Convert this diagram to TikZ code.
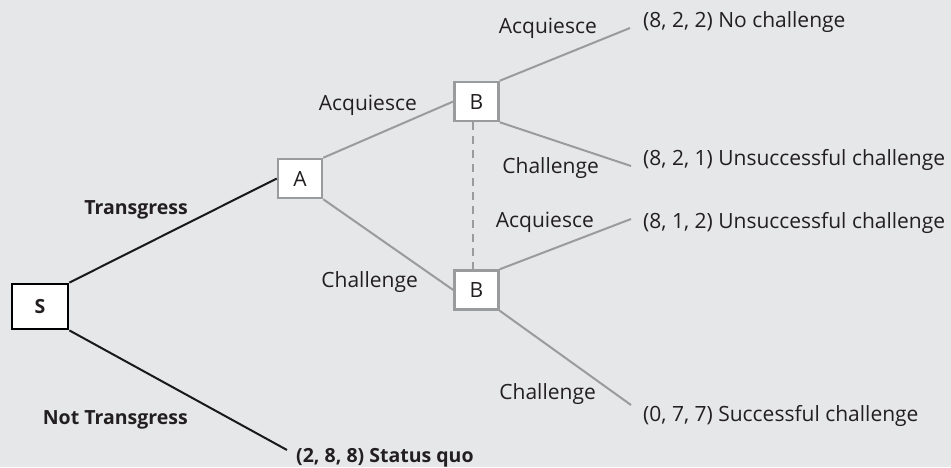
\documentclass[tikz,border=0pt]{standalone}
\usepackage{fontspec}
\setmainfont{Open Sans}
\definecolor{bg}{HTML}{E6E7E9}
\definecolor{ln}{HTML}{9A9B9D}
\definecolor{txt}{HTML}{231F20}
\newcommand{\figfont}{\fontsize{21}{25}\selectfont}
\newcommand{\figbold}{\fontsize{19.5}{23}\selectfont\bfseries}
\tikzset{
  box/.style={draw=ln, line width=2.5pt, fill=white, minimum width=44pt, minimum height=39pt, inner sep=0pt, text=txt, font=\figfont},
  sbox/.style={draw=black, line width=2.8pt, fill=white, minimum width=56pt, minimum height=45pt, inner sep=0pt, text=txt, font=\figbold},
  gline/.style={draw=ln, line width=2pt},
  bline/.style={draw=black!90, line width=2pt},
  lbl/.style={inner sep=0pt, text=txt, font=\figfont},
  blbl/.style={inner sep=0pt, text=txt, font=\figbold},
}
\begin{document}
\begin{tikzpicture}[x=1pt,y=-1pt]
\fill[bg] (0,0) rectangle (951,467);
\useasboundingbox (0,0) rectangle (951,467);
% decision nodes
\node[sbox] (S) at (40,306.5) {S};
\node[box] (A) at (300,178.5) {A};
\node[box] (B1) at (476.5,101.5) {B};
\node[box] (B2) at (476.5,290) {B};
% end points
\coordinate (e1) at (630,28);
\coordinate (e2) at (631,166);
\coordinate (e3) at (631,219);
\coordinate (e4) at (631,405);
\coordinate (e0) at (287,450);
% connectors
\draw[bline] (S.north east) -- (A.west);
\draw[bline] (S.south east) -- (e0);
\draw[gline] (A.north east) -- (B1.west);
\draw[gline] (A.south east) -- (B2.west);
\draw[gline] (B1.north east) -- (e1);
\draw[gline] (B1.south east) -- (e2);
\draw[gline] (B2.north east) -- (e3);
\draw[gline] (B2.south east) -- (e4);
\draw[draw=ln, line width=2pt, dash pattern=on 8pt off 6pt] ([xshift=-3.5pt]B1.south) -- ([xshift=-3.5pt]B2.north);
% branch labels
\node[lbl, anchor=base east] (l1) at (597,33) {Acquiesce};
\node[lbl, anchor=base east] (l2) at (599,173) {Challenge};
\node[lbl, anchor=base east] (l3) at (594,227) {Acquiesce};
\node[lbl, anchor=base east] (l4) at (596,399) {Challenge};
\node[lbl, anchor=base east] (l5) at (417,110) {Acquiesce};
\node[lbl, anchor=base east] (l6) at (418,287) {Challenge};
\node[blbl, anchor=base east] (l7) at (188,214) {Transgress};
\node[blbl, anchor=base east] (l8) at (188,424) {Not Transgress};
% payoffs
\node[lbl, anchor=base west] (p1) at (643,27) {(8, 2, 2) No challenge};
\node[lbl, anchor=base west] (p2) at (643,165) {(8, 2, 1) Unsuccessful challenge};
\node[lbl, anchor=base west] (p3) at (643,228) {(8, 1, 2) Unsuccessful challenge};
\node[lbl, anchor=base west] (p4) at (643,421) {(0, 7, 7) Successful challenge};
\node[blbl, anchor=base west] (p0) at (296,462) {(2, 8, 8) Status quo};
\end{tikzpicture}
\end{document}
